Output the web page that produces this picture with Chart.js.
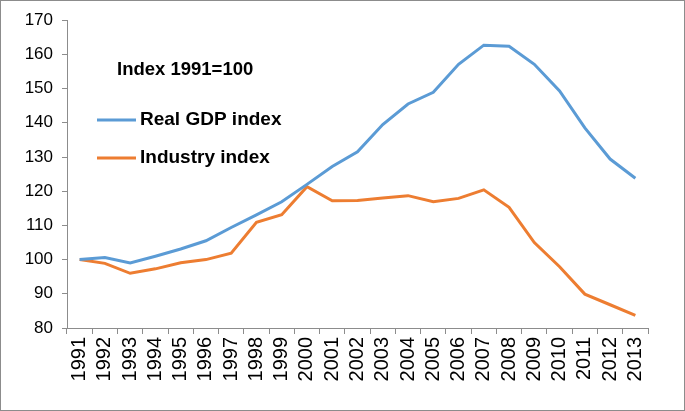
<!DOCTYPE html>
<html>
<head>
<meta charset="utf-8">
<script src="https://cdn.jsdelivr.net/npm/chart.js@4"></script>
<style>
  body { margin: 0; background: #fff; }
  #wrap { box-sizing: border-box; width: 685px; height: 411px; border: 1px solid #8c8c8c; position: relative; }
</style>
</head>
<body>
<div id="wrap"><canvas id="myChart"></canvas></div>
<script>
// data
var years = ['1991','1992','1993','1994','1995','1996','1997','1998','1999','2000','2001','2002',
             '2003','2004','2005','2006','2007','2008','2009','2010','2011','2012','2013'];
var gdpIndex = [100, 100.6, 99, 101, 103.1, 105.5, 109.4, 113.1, 116.9, 122, 127.2, 131.5,
                139.5, 145.5, 148.9, 157.1, 162.7, 162.4, 157.1, 149.3, 138.5, 129.4, 123.8];
var industryIndex = [100, 98.9, 96, 97.3, 99.1, 100, 101.9, 110.9, 113.1, 121.3, 117.2, 117.3,
                     118, 118.7, 116.9, 117.9, 120.4, 115.3, 105, 97.9, 89.9, 86.8, 83.7];
var yTicks = [80, 90, 100, 110, 120, 130, 140, 150, 160, 170];

var axisFont = "'Liberation Sans', Arial, sans-serif";

// draws the note and the legend inside the plot like the original
var inlineLegend = {
  id: 'inlineLegend',
  afterDraw: function(chart) {
    var ctx = chart.ctx;
    ctx.save();
    ctx.fillStyle = '#000';
    ctx.textBaseline = 'middle';
    ctx.font = "bold 18.5px " + axisFont;
    ctx.fillText('Index 1991=100', 116, 69);
    var rows = [119, 157];
    chart.data.datasets.forEach(function(ds, i) {
      ctx.strokeStyle = ds.borderColor;
      ctx.lineWidth = 3;
      ctx.beginPath();
      ctx.moveTo(96, rows[i]);
      ctx.lineTo(135, rows[i]);
      ctx.stroke();
      ctx.font = "bold 19px " + axisFont;
      ctx.fillText(ds.label, 139, rows[i]);
    });
    ctx.restore();
  }
};

var ctx = document.getElementById('myChart').getContext('2d');
var myChart = new Chart(ctx, {
  type: 'line',
  data: {
    labels: years,
    datasets: [{
      label: 'Real GDP index',
      data: gdpIndex,
      borderColor: '#5b9bd5',
      borderWidth: 3,
      pointRadius: 0,
      tension: 0
    }, {
      label: 'Industry index',
      data: industryIndex,
      borderColor: '#ed7d31',
      borderWidth: 3,
      pointRadius: 0,
      tension: 0
    }]
  },
  options: {
    responsive: true,
    maintainAspectRatio: false,
    animation: false,
    layout: { padding: { top: 19, right: 36, bottom: 0, left: 0 } },
    plugins: {
      legend: { display: false },
      tooltip: { enabled: false }
    },
    scales: {
      x: {
        offset: true,
        afterFit: function(axis) { axis.height = 82; },
        grid: { offset: true, drawOnChartArea: false, drawTicks: true, tickLength: 6, color: '#8c8c8c' },
        border: { color: '#8c8c8c', width: 1 },
        ticks: {
          minRotation: 90, maxRotation: 90, autoSkip: false, padding: 3,
          color: '#000', font: { family: axisFont, size: 20 }
        }
      },
      y: {
        min: 80,
        max: 170,
        afterFit: function(axis) { axis.width = 66; },
        afterBuildTicks: function(axis) {
          axis.ticks = yTicks.map(function(v) { return { value: v }; });
        },
        grid: { drawOnChartArea: false, drawTicks: true, tickLength: 5, color: '#8c8c8c' },
        border: { color: '#8c8c8c', width: 1 },
        ticks: { color: '#000', padding: 9, font: { family: axisFont, size: 17 } }
      }
    }
  },
  plugins: [inlineLegend]
});
</script>
</body>
</html>
